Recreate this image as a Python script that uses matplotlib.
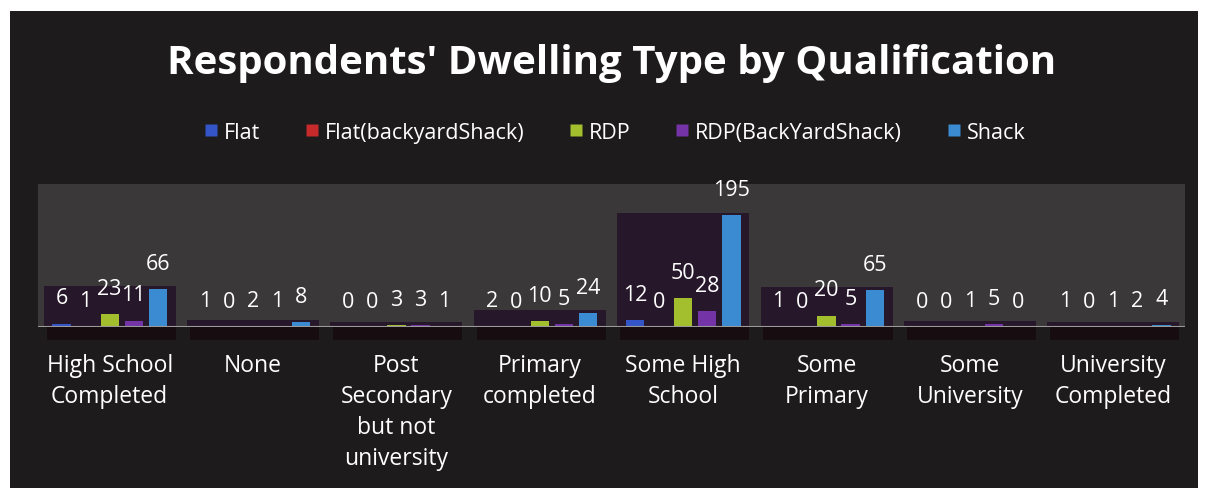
import numpy as np
import matplotlib.pyplot as plt
from matplotlib.patches import Rectangle
from matplotlib.lines import Line2D

# data
categories = ['High School\nCompleted', 'None', 'Post\nSecondary\nbut not\nuniversity',
              'Primary\ncompleted', 'Some High\nSchool', 'Some\nPrimary',
              'Some\nUniversity', 'University\nCompleted']
series_names = ['Flat', 'Flat(backyardShack)', 'RDP', 'RDP(BackYardShack)', 'Shack']
flat = [6, 1, 0, 2, 12, 1, 0, 1]
flat_backyard = [1, 0, 0, 0, 0, 0, 0, 0]
rdp = [23, 2, 3, 10, 50, 20, 1, 1]
rdp_backyard = [11, 1, 3, 5, 28, 5, 5, 2]
shack = [66, 8, 1, 24, 195, 65, 0, 4]

colors = ['#3355c8', '#c62a2a', '#a4bf2e', '#7434a8', '#3a8bd2']

plt.rcParams['font.family'] = ['Open Sans', 'DejaVu Sans']

fig = plt.figure(figsize=(12.11, 4.89), dpi=100)
fig.patch.set_facecolor('white')

# dark slide background
fig.patches.append(Rectangle((10 / 1211, 0), 1188 / 1211, 477 / 489,
                             transform=fig.transFigure, facecolor='#1d1b1b',
                             edgecolor='none', zorder=-5))

ax = fig.add_axes([38 / 1211, (489 - 328) / 489, 1147 / 1211, 143 / 489])
ax.set_facecolor('#3a3838')

all_series = [flat, flat_backyard, rdp, rdp_backyard, shack]
x = np.arange(len(categories))
step = 0.168
width = 0.128

# dark back wall for each group, as high as its tallest bar
for i in range(len(categories)):
    top = max(s[i] for s in all_series)
    ax.add_patch(Rectangle((i - 0.46, 0), 0.92, top + 5, facecolor='#27172a',
                           edgecolor='none', zorder=1))
    ax.add_patch(Rectangle((i - 0.44, -22), 0.90, 22, facecolor='#170d10',
                           edgecolor='none', zorder=1, clip_on=False))

for k, (vals, c) in enumerate(zip(all_series, colors)):
    xs = x + (k - 2) * step
    ax.bar(xs, vals, width=width, color=c, edgecolor='none', zorder=3)
    for xi, v in zip(xs, vals):
        ax.annotate(str(v), (xi, v), xytext=(0, 11), textcoords='offset points',
                    ha='center', va='bottom', color='white', fontsize=15.5, zorder=5)

ax.axhline(0, color='#9a9a9a', lw=1.5, zorder=4)
ax.set_xlim(-0.5, len(categories) - 0.5)
ax.set_ylim(0, 250)
ax.set_yticks([])
ax.set_xticks(x)
ax.set_xticklabels(categories, color='white', fontsize=16.5, linespacing=1.38, va='top')
ax.tick_params(axis='x', length=0, pad=19)
for sp in ax.spines.values():
    sp.set_visible(False)

fig.text(0.505, 0.87, "Respondents' Dwelling Type by Qualification", ha='center', va='center',
         color='white', fontsize=29, fontweight='bold')

handles = [Line2D([], [], marker='s', linestyle='none', markersize=8,
                  markerfacecolor=c, markeredgecolor='none') for c in colors]
leg = fig.legend(handles, series_names, loc='center', bbox_to_anchor=(0.506, 0.728),
                 ncol=5, frameon=False, fontsize=15.5, handletextpad=0.1,
                 columnspacing=1.9, handlelength=1.0)
for t in leg.get_texts():
    t.set_color('white')

fig.savefig('out.png', dpi=100, facecolor=fig.get_facecolor())
